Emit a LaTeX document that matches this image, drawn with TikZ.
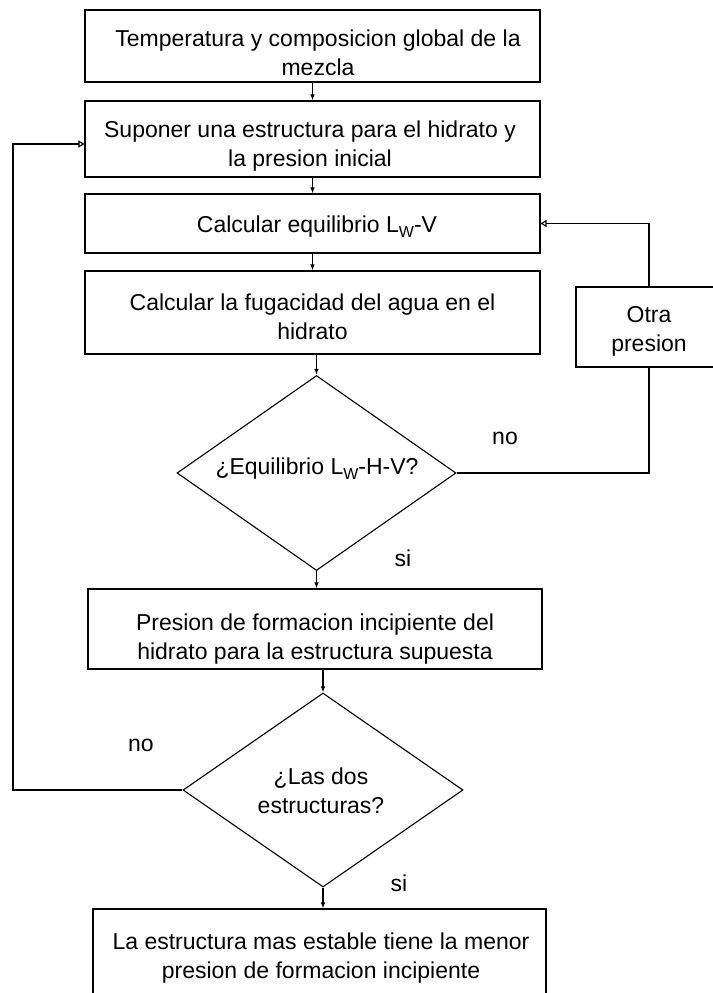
\documentclass[tikz,border=0pt]{standalone}
\usepackage{fontspec}
\setmainfont{Liberation Sans}
\usetikzlibrary{arrows.meta,shapes.geometric}
\newcommand{\subw}{\raisebox{-5pt}{\fontsize{16}{16}\selectfont W}}
\newcommand{\twol}[2]{\begin{tabular}[t]{@{}c@{}}#1\\#2\end{tabular}}
\begin{document}
\begin{tikzpicture}[x=1pt,y=-1pt,line width=1.1pt,
  box/.style={draw,rectangle,inner sep=0pt},
  dia/.style={draw,diamond,inner sep=0pt},
  txt/.style={font=\fontsize{23}{29}\selectfont,anchor=base,inner sep=0pt},
  down/.style={-{Latex[length=6pt,width=4.5pt]}},
  back/.style={-{Triangle[open,length=6pt,width=7pt]}}]
\useasboundingbox (0,0) rectangle (712,993);
% boxes
\node[box,minimum width=455pt,minimum height=72pt] (b1) at (312.5,46) {};
\node[box,minimum width=455pt,minimum height=76pt] (b2) at (312.5,139) {};
\node[box,minimum width=455pt,minimum height=59pt] (b3) at (312.5,223.5) {};
\node[box,minimum width=455pt,minimum height=83pt] (b4) at (312.5,312.5) {};
\node[box,minimum width=146pt,minimum height=80pt] (otra) at (649,327) {};
\node[dia,minimum width=279pt,minimum height=195pt] (d1) at (316.5,473) {};
\node[box,minimum width=454pt,minimum height=80pt] (b5) at (315,629) {};
\node[dia,minimum width=280pt,minimum height=194pt] (d2) at (323,790) {};
\node[box,minimum width=453pt,minimum height=94pt] (b6) at (319.5,956) {};
% texts
\node[txt] (t1) at (318,46) {\twol{Temperatura y composicion global de la}{mezcla}};
\node[txt] (t2) at (310,137) {\twol{Suponer una estructura para el hidrato y}{la presion inicial}};
\node[txt] (t3) at (317,232) {Calcular equilibrio L\subw-V};
\node[txt] (t4) at (312.5,310) {\twol{Calcular la fugacidad del agua en el}{hidrato}};
\node[txt] (to) at (649,322) {\twol{Otra}{presion}};
\node[txt] (td1) at (317,474) {¿Equilibrio L\subw-H-V?};
\node[txt] (t5) at (315,630) {\twol{Presion de formacion incipiente del}{hidrato para la estructura supuesta}};
\node[txt] (td2) at (321,784) {\twol{¿Las dos}{estructuras?}};
\node[txt] (t6) at (321,949) {\twol{La estructura mas estable tiene la menor}{presion de formacion incipiente}};
% labels
\node[txt] (no1) at (505,444) {no};
\node[txt] (si1) at (403,566) {si};
\node[txt] (no2) at (141,751) {no};
\node[txt] (si2) at (399,891) {si};
% connectors
\draw[down] (b1) -- (b2);
\draw[down] (b2) -- (b3);
\draw[down] (b3) -- (b4);
\draw[down] (d1.north |- b4.south) -- (d1.north);
\draw[down] (d1.south) -- (d1.south |- b5.north);
\draw[down] (d2.north |- b5.south) -- (d2.north);
\draw[down] (d2.south) -- (d2.south |- b6.north);
\draw (d1.east) -| (otra.south);
\draw[back] (otra.north) |- (b3.east);
\coordinate (lp) at (13,790);
\draw[back] (d2.west) -- (lp) |- ([yshift=-5pt]b2.west);
\end{tikzpicture}
\end{document}
